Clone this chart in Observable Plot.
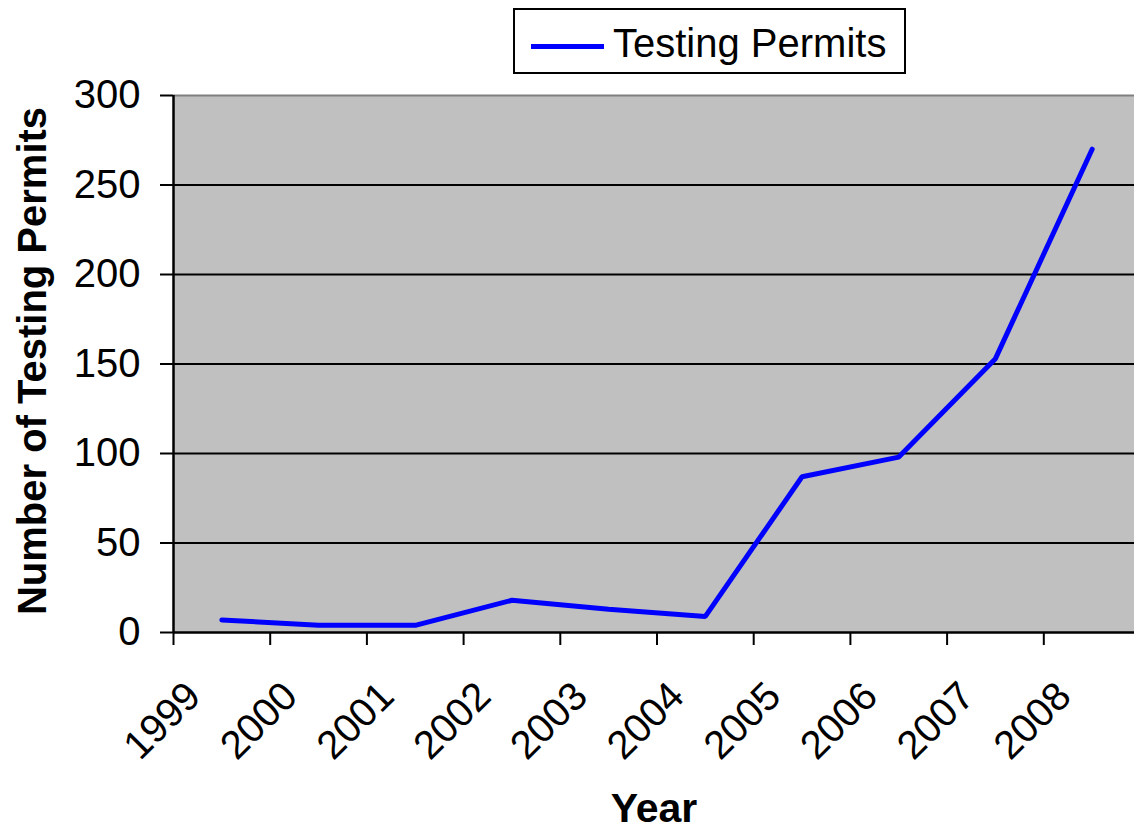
<!DOCTYPE html>
<html>
<head>
<meta charset="utf-8">
<script src="https://cdn.jsdelivr.net/npm/d3@7"></script>
<script src="https://cdn.jsdelivr.net/npm/@observablehq/plot@0.6"></script>
<style>
  html, body { margin: 0; padding: 0; background: #fff; }
  #wrap { position: relative; width: 1134px; height: 829px; overflow: hidden; font-family: "Liberation Sans", Arial, sans-serif; }
  #legend { position: absolute; left: 513px; top: 8px; width: 389px; height: 62px; border: 2px solid #000; background: #fff; }
  #legend .swatch { position: absolute; left: 16px; top: 34px; width: 73px; height: 5px; background: #0000ff; }
  #legend .lbl { position: absolute; left: 98px; top: 12px; font-size: 40px; line-height: 42px; color: #000; white-space: nowrap; }
</style>
</head>
<body>
<div id="wrap">
  <div id="chart"></div>
  <div id="legend"><div class="swatch"></div><div class="lbl">Testing Permits</div></div>
</div>
<script>
const years = [1999, 2000, 2001, 2002, 2003, 2004, 2005, 2006, 2007, 2008];
const permits = [7, 4, 4, 18, 13, 9, 87, 98, 153, 270];
const yTicks = [0, 50, 100, 150, 200, 250, 300];
const seriesName = "Testing Permits";
const xTitle = "Year";
const yTitle = "Number of Testing Permits";

const data = years.map((y, i) => ({year: y, value: permits[i]}));
const boundaries = years.map(y => y - 0.5).concat([years[years.length - 1] + 0.5]);

const chart = Plot.plot({
  width: 1134,
  height: 829,
  marginLeft: 173,
  marginRight: -6,
  marginTop: 95,
  marginBottom: 197,
  style: {fontFamily: '"Liberation Sans", Arial, sans-serif', color: "#000", background: "#fff"},
  x: {domain: [boundaries[0], boundaries[boundaries.length - 1]]},
  y: {domain: [0, 300]},
  marks: [
    Plot.frame({fill: "#c0c0c0", stroke: null}),
    Plot.ruleY(yTicks.filter(v => v > 0 && v < 300), {stroke: "#000", strokeWidth: 2}),
    Plot.ruleY([300], {stroke: "#808080", strokeWidth: 2}),
    Plot.line(data, {x: "year", y: "value", stroke: "#0000ff", strokeWidth: 5, strokeLinejoin: "miter"}),
    Plot.ruleX([boundaries[0]], {stroke: "#000", strokeWidth: 2.5}),
    Plot.ruleY([0], {stroke: "#000", strokeWidth: 2.5}),
    Plot.axisY({ticks: yTicks, tickSize: 13, tickPadding: 20, fontSize: 40, strokeWidth: 2, label: null}),
    Plot.axisX({ticks: boundaries, tickSize: 13, tickFormat: () => "", strokeWidth: 2, label: null}),
    Plot.text(years, {x: d => d, y: () => 0, text: d => String(d), rotate: -45, textAnchor: "end", lineAnchor: "bottom", dx: -19, dy: 66, fontSize: 40}),
    Plot.text([xTitle], {x: () => 2003.5, frameAnchor: "bottom", dx: -3, dy: 189, lineAnchor: "bottom", textAnchor: "middle", fontSize: 41, fontWeight: "bold"}),
    Plot.text([yTitle], {frameAnchor: "left", rotate: -90, dx: -128, dy: -3, lineAnchor: "bottom", textAnchor: "middle", fontSize: 40, fontWeight: "bold"})
  ]
});
document.getElementById("chart").appendChild(chart);
</script>
</body>
</html>
